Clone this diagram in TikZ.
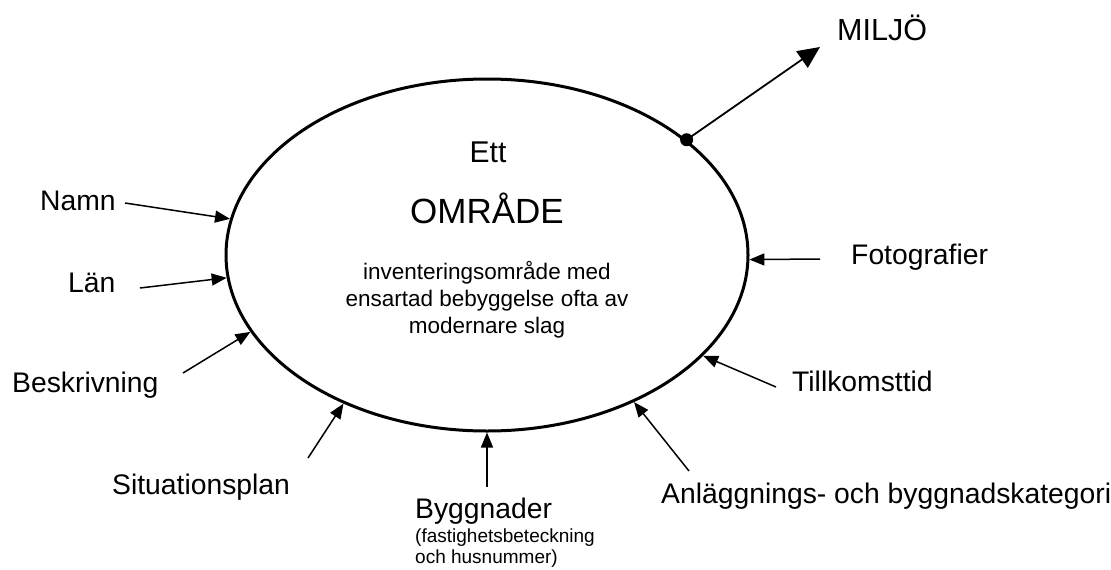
\documentclass[tikz,border=0pt]{standalone}
\usepackage{fontspec}
\setmainfont{Liberation Sans}
\usetikzlibrary{arrows.meta,shapes.geometric,positioning}

\begin{document}
\begin{tikzpicture}[
    x=1pt, y=-1pt,
    omr/.style={ellipse, draw, line width=3pt, minimum width=522pt, minimum height=352pt, inner sep=0pt},
    lbl/.style={inner sep=0pt, anchor=base west, font=\fontsize{28.3}{33}\selectfont},
    inre/.style={inner sep=0pt, anchor=base, font=\fontsize{22.5}{27}\selectfont},
    liten/.style={inner sep=0pt, align=left, font=\fontsize{19}{21}\selectfont},
    pil/.style={-{Triangle[length=15pt,width=12pt]}, line width=1.5pt}
]
    \useasboundingbox (0,0) rectangle (1111,570);

    % the area itself
    \node[omr] (omrade) at (487,255) {};
    \node[inre, font=\fontsize{30}{34}\selectfont] (ett) at (488,162) {Ett};
    \node[inre, font=\fontsize{35}{40}\selectfont] (titel) at (487,223) {OMRÅDE};
    \node[inre, anchor=center, align=center] (forklaring) at (487,300) {inventeringsområde med\\ensartad bebyggelse ofta av\\modernare slag};

    % attributes round it
    \node[lbl] (namn) at (40,210) {Namn};
    \node[lbl] (lan) at (68,292) {Län};
    \node[lbl] (beskrivning) at (12,392) {Beskrivning};
    \node[lbl] (situation) at (112,494) {Situationsplan};
    \node[lbl] (byggnader) at (415,518) {Byggnader};
    \node[liten, below=4pt of byggnader.south west, anchor=north west] (fastighet) {(fastighetsbeteckning\\och husnummer)};
    \node[lbl] (anlagg) at (661,503) {Anläggnings- och byggnadskategori};
    \node[lbl] (tillkomst) at (792,391) {Tillkomsttid};
    \node[lbl] (foto) at (851,264) {Fotografier};
    \node[lbl, font=\fontsize{30.5}{36}\selectfont] (miljo) at (837,40) {MILJÖ};

    \coordinate (namnT) at (125,203);
    \coordinate (lanT) at (140,288);
    \coordinate (beskrivningT) at (183,373);
    \coordinate (situationT) at (308,458);
    \coordinate (byggnaderT) at (487,487);
    \coordinate (anlaggT) at (689,471);
    \coordinate (tillkomstT) at (776,387);
    \coordinate (fotoT) at (820,259);
    \coordinate (miljoT) at (820,47);

    \draw[pil] (namnT) -- (omrade.172);
    \draw[pil] (lanT) -- (omrade.185);
    \draw[pil] (beskrivningT) -- (omrade.198);
    \draw[pil] (situationT) -- (omrade.226);
    \draw[pil] (byggnaderT) -- (omrade.270);
    \draw[pil] (anlaggT) -- (omrade.315);
    \draw[pil] (tillkomstT) -- (omrade.335);
    \draw[pil] (fotoT) -- (omrade.359);

    % outgoing link
    \fill (omrade.30) circle (6.5pt);
    \draw[line width=1.8pt, -{Triangle[length=22pt,width=20pt]}] (omrade.30) -- (miljoT);
\end{tikzpicture}
\end{document}
